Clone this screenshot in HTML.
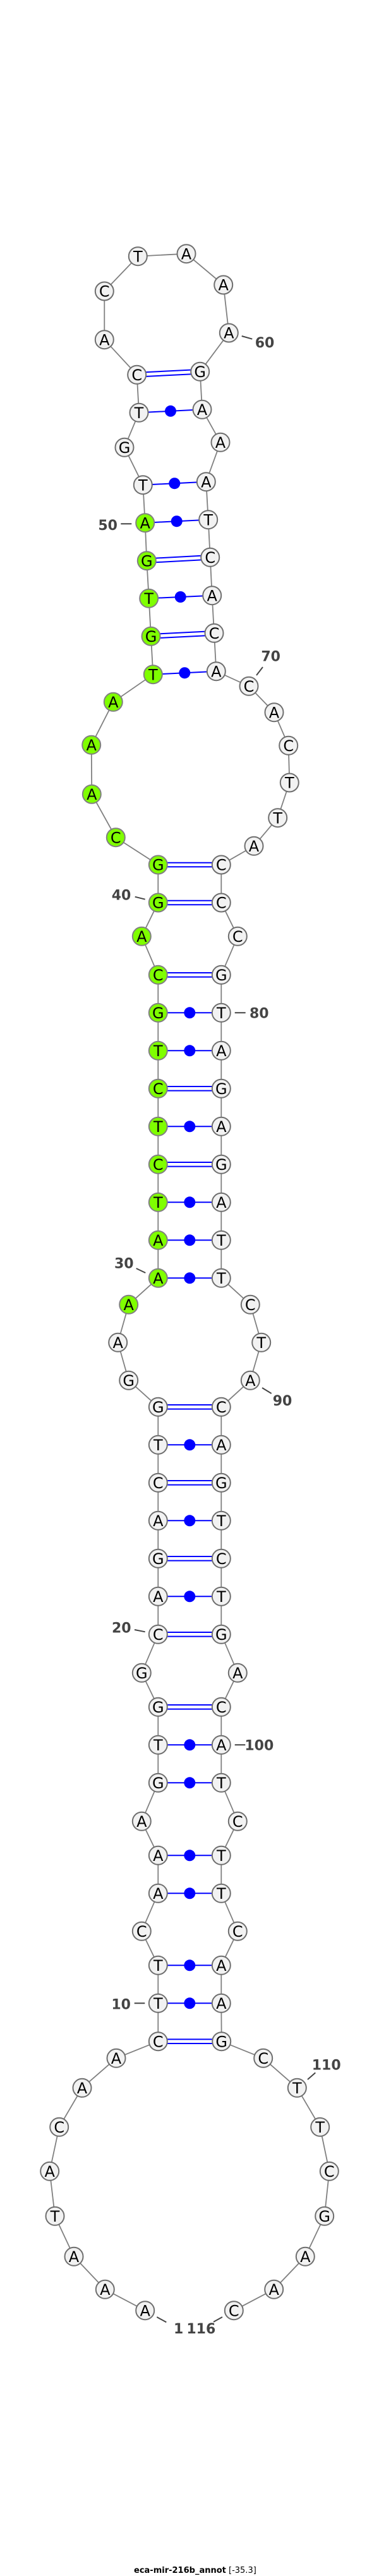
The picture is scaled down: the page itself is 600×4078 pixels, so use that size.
<!DOCTYPE html>
<html><head><meta charset="utf-8"><title>eca-mir-216b_annot</title>
<style>
html,body{margin:0;padding:0;background:#fff}
svg{display:block}
.n circle{fill:#f2f2f2;stroke:#6e6e6e;stroke-width:2}
.n circle.g{fill:#7fff00;stroke:#808080}
.n text{font:24px "DejaVu Sans",sans-serif;text-anchor:middle;fill:#000}
.l text{font:bold 22px "DejaVu Sans",sans-serif;text-anchor:middle;fill:#444}
.l line{stroke:#444;stroke-width:2}
.p line{stroke:#0000ff;stroke-width:2}
.p circle{fill:#0000ff}
</style></head><body>
<svg xmlns="http://www.w3.org/2000/svg" width="600" height="4078" viewBox="0 0 600 4078">
<polyline fill="none" stroke="#808080" stroke-width="1.8" points="229.7,3657.7 166.3,3624.3 117,3572.3 87,3508.3 78.7,3437.3 93.7,3367.3 130,3305.3 184,3258.3 250.3,3231.7 250.3,3171.3 250.3,3111.3 224.3,3057.3 250.3,2997.3 250.3,2937.3 224.3,2883.3 250.3,2822.3 250.3,2762.3 250.3,2702.3 224.3,2648.3 250.3,2587.3 250.3,2527.3 250.3,2467.3 250.3,2407.3 250.3,2347.3 250.3,2287.3 250.3,2227.3 203.7,2185.3 186.7,2125.3 203.7,2065.3 250.3,2023.3 250.3,1963.3 250.3,1903.3 250.3,1843.3 250.3,1783.3 250.3,1723.3 250.3,1663.3 250.3,1603.3 250.3,1543.3 224.3,1482.3 250.3,1429 250.3,1369 183.3,1325.7 145.3,1257.3 144.7,1179.3 179.3,1111.3 242.3,1067.7 239,1007.3 235.7,947.3 232.3,887.7 229.7,827.7 226.3,767.7 197,708.3 220,653.3 216.7,593.3 165.3,537.7 165.3,461 218.3,405.7 295,401.7 353.7,451 362.3,527 316.7,588.3 320,648.3 349,700.3 326.3,762.7 329.7,822.7 332.7,882.3 335.7,942.7 339,1002.3 342.3,1062.7 394,1086.3 434,1127.7 456.7,1180.3 458.3,1239 439.7,1294.7 402,1339.3 350.3,1369 350.3,1429 376.3,1482.3 350.3,1543.3 350.3,1603.3 350.3,1663.3 350.3,1723.3 350.3,1783.3 350.3,1843.3 350.3,1903.3 350.3,1963.3 350.3,2023.3 396.3,2065.3 413.7,2125.3 396.3,2185.3 350.3,2227.3 350.3,2287.3 350.3,2347.3 350.3,2407.3 350.3,2467.3 350.3,2527.3 350.3,2587.3 376.3,2648.3 350.3,2702.3 350.3,2762.3 350.3,2822.3 376.3,2883.3 350.3,2937.3 350.3,2997.3 376.3,3057.3 350.3,3111.3 350.3,3171.3 350.7,3231.7 416.7,3258.3 470.3,3305.3 506.7,3367.3 521.3,3437.3 513.7,3508.3 483.3,3572.3 433.7,3624.3 370.3,3657.7"/>
<g class="p">
<line x1="216.9" y1="589.9" x2="316.5" y2="584.9"/><line x1="217.1" y1="596.6" x2="316.9" y2="591.6"/>
<line x1="220" y1="653.3" x2="320" y2="648.3"/><circle cx="270" cy="650.8" r="9"/>
<line x1="226.3" y1="767.7" x2="326.3" y2="762.7"/><circle cx="276.3" cy="765.2" r="9"/>
<line x1="229.7" y1="827.7" x2="329.7" y2="822.7"/><circle cx="279.7" cy="825.2" r="9"/>
<line x1="232.3" y1="884.4" x2="332.7" y2="879"/><line x1="232.3" y1="891" x2="332.7" y2="885.6"/>
<line x1="235.7" y1="947.3" x2="335.7" y2="942.7"/><circle cx="285.7" cy="945" r="9"/>
<line x1="239" y1="1004" x2="339" y2="999"/><line x1="239" y1="1010.6" x2="339" y2="1005.6"/>
<line x1="242.3" y1="1067.7" x2="342.3" y2="1062.7"/><circle cx="292.3" cy="1065.2" r="9"/>
<line x1="250.3" y1="1365.7" x2="350.3" y2="1365.7"/><line x1="250.3" y1="1372.3" x2="350.3" y2="1372.3"/>
<line x1="250.3" y1="1425.7" x2="350.3" y2="1425.7"/><line x1="250.3" y1="1432.3" x2="350.3" y2="1432.3"/>
<line x1="250.3" y1="1540" x2="350.3" y2="1540"/><line x1="250.3" y1="1546.6" x2="350.3" y2="1546.6"/>
<line x1="250.3" y1="1603.3" x2="350.3" y2="1603.3"/><circle cx="300.3" cy="1603.3" r="9"/>
<line x1="250.3" y1="1663.3" x2="350.3" y2="1663.3"/><circle cx="300.3" cy="1663.3" r="9"/>
<line x1="250.3" y1="1720" x2="350.3" y2="1720"/><line x1="250.3" y1="1726.6" x2="350.3" y2="1726.6"/>
<line x1="250.3" y1="1783.3" x2="350.3" y2="1783.3"/><circle cx="300.3" cy="1783.3" r="9"/>
<line x1="250.3" y1="1840" x2="350.3" y2="1840"/><line x1="250.3" y1="1846.6" x2="350.3" y2="1846.6"/>
<line x1="250.3" y1="1903.3" x2="350.3" y2="1903.3"/><circle cx="300.3" cy="1903.3" r="9"/>
<line x1="250.3" y1="1963.3" x2="350.3" y2="1963.3"/><circle cx="300.3" cy="1963.3" r="9"/>
<line x1="250.3" y1="2023.3" x2="350.3" y2="2023.3"/><circle cx="300.3" cy="2023.3" r="9"/>
<line x1="250.3" y1="2224" x2="350.3" y2="2224"/><line x1="250.3" y1="2230.6" x2="350.3" y2="2230.6"/>
<line x1="250.3" y1="2287.3" x2="350.3" y2="2287.3"/><circle cx="300.3" cy="2287.3" r="9"/>
<line x1="250.3" y1="2344" x2="350.3" y2="2344"/><line x1="250.3" y1="2350.6" x2="350.3" y2="2350.6"/>
<line x1="250.3" y1="2407.3" x2="350.3" y2="2407.3"/><circle cx="300.3" cy="2407.3" r="9"/>
<line x1="250.3" y1="2464" x2="350.3" y2="2464"/><line x1="250.3" y1="2470.6" x2="350.3" y2="2470.6"/>
<line x1="250.3" y1="2527.3" x2="350.3" y2="2527.3"/><circle cx="300.3" cy="2527.3" r="9"/>
<line x1="250.3" y1="2584" x2="350.3" y2="2584"/><line x1="250.3" y1="2590.6" x2="350.3" y2="2590.6"/>
<line x1="250.3" y1="2699" x2="350.3" y2="2699"/><line x1="250.3" y1="2705.6" x2="350.3" y2="2705.6"/>
<line x1="250.3" y1="2762.3" x2="350.3" y2="2762.3"/><circle cx="300.3" cy="2762.3" r="9"/>
<line x1="250.3" y1="2822.3" x2="350.3" y2="2822.3"/><circle cx="300.3" cy="2822.3" r="9"/>
<line x1="250.3" y1="2937.3" x2="350.3" y2="2937.3"/><circle cx="300.3" cy="2937.3" r="9"/>
<line x1="250.3" y1="2997.3" x2="350.3" y2="2997.3"/><circle cx="300.3" cy="2997.3" r="9"/>
<line x1="250.3" y1="3111.3" x2="350.3" y2="3111.3"/><circle cx="300.3" cy="3111.3" r="9"/>
<line x1="250.3" y1="3171.3" x2="350.3" y2="3171.3"/><circle cx="300.3" cy="3171.3" r="9"/>
<line x1="250.3" y1="3228.4" x2="350.7" y2="3228.4"/><line x1="250.3" y1="3235" x2="350.7" y2="3235"/>
</g>
<g class="n">
<circle cx="229.7" cy="3657.7" r="14.5"/><text x="229.7" y="3666.4">A</text>
<circle cx="166.3" cy="3624.3" r="14.5"/><text x="166.3" y="3633">A</text>
<circle cx="117" cy="3572.3" r="14.5"/><text x="117" y="3581">A</text>
<circle cx="87" cy="3508.3" r="14.5"/><text x="87" y="3517">T</text>
<circle cx="78.7" cy="3437.3" r="14.5"/><text x="78.7" y="3446">A</text>
<circle cx="93.7" cy="3367.3" r="14.5"/><text x="93.7" y="3376">C</text>
<circle cx="130" cy="3305.3" r="14.5"/><text x="130" y="3314">A</text>
<circle cx="184" cy="3258.3" r="14.5"/><text x="184" y="3267">A</text>
<circle cx="250.3" cy="3231.7" r="14.5"/><text x="250.3" y="3240.4">C</text>
<circle cx="250.3" cy="3171.3" r="14.5"/><text x="250.3" y="3180">T</text>
<circle cx="250.3" cy="3111.3" r="14.5"/><text x="250.3" y="3120">T</text>
<circle cx="224.3" cy="3057.3" r="14.5"/><text x="224.3" y="3066">C</text>
<circle cx="250.3" cy="2997.3" r="14.5"/><text x="250.3" y="3006">A</text>
<circle cx="250.3" cy="2937.3" r="14.5"/><text x="250.3" y="2946">A</text>
<circle cx="224.3" cy="2883.3" r="14.5"/><text x="224.3" y="2892">A</text>
<circle cx="250.3" cy="2822.3" r="14.5"/><text x="250.3" y="2831">G</text>
<circle cx="250.3" cy="2762.3" r="14.5"/><text x="250.3" y="2771">T</text>
<circle cx="250.3" cy="2702.3" r="14.5"/><text x="250.3" y="2711">G</text>
<circle cx="224.3" cy="2648.3" r="14.5"/><text x="224.3" y="2657">G</text>
<circle cx="250.3" cy="2587.3" r="14.5"/><text x="250.3" y="2596">C</text>
<circle cx="250.3" cy="2527.3" r="14.5"/><text x="250.3" y="2536">A</text>
<circle cx="250.3" cy="2467.3" r="14.5"/><text x="250.3" y="2476">G</text>
<circle cx="250.3" cy="2407.3" r="14.5"/><text x="250.3" y="2416">A</text>
<circle cx="250.3" cy="2347.3" r="14.5"/><text x="250.3" y="2356">C</text>
<circle cx="250.3" cy="2287.3" r="14.5"/><text x="250.3" y="2296">T</text>
<circle cx="250.3" cy="2227.3" r="14.5"/><text x="250.3" y="2236">G</text>
<circle cx="203.7" cy="2185.3" r="14.5"/><text x="203.7" y="2194">G</text>
<circle cx="186.7" cy="2125.3" r="14.5"/><text x="186.7" y="2134">A</text>
<circle class="g" cx="203.7" cy="2065.3" r="14.5"/><text x="203.7" y="2074">A</text>
<circle class="g" cx="250.3" cy="2023.3" r="14.5"/><text x="250.3" y="2032">A</text>
<circle class="g" cx="250.3" cy="1963.3" r="14.5"/><text x="250.3" y="1972">A</text>
<circle class="g" cx="250.3" cy="1903.3" r="14.5"/><text x="250.3" y="1912">T</text>
<circle class="g" cx="250.3" cy="1843.3" r="14.5"/><text x="250.3" y="1852">C</text>
<circle class="g" cx="250.3" cy="1783.3" r="14.5"/><text x="250.3" y="1792">T</text>
<circle class="g" cx="250.3" cy="1723.3" r="14.5"/><text x="250.3" y="1732">C</text>
<circle class="g" cx="250.3" cy="1663.3" r="14.5"/><text x="250.3" y="1672">T</text>
<circle class="g" cx="250.3" cy="1603.3" r="14.5"/><text x="250.3" y="1612">G</text>
<circle class="g" cx="250.3" cy="1543.3" r="14.5"/><text x="250.3" y="1552">C</text>
<circle class="g" cx="224.3" cy="1482.3" r="14.5"/><text x="224.3" y="1491">A</text>
<circle class="g" cx="250.3" cy="1429" r="14.5"/><text x="250.3" y="1437.7">G</text>
<circle class="g" cx="250.3" cy="1369" r="14.5"/><text x="250.3" y="1377.7">G</text>
<circle class="g" cx="183.3" cy="1325.7" r="14.5"/><text x="183.3" y="1334.4">C</text>
<circle class="g" cx="145.3" cy="1257.3" r="14.5"/><text x="145.3" y="1266">A</text>
<circle class="g" cx="144.7" cy="1179.3" r="14.5"/><text x="144.7" y="1188">A</text>
<circle class="g" cx="179.3" cy="1111.3" r="14.5"/><text x="179.3" y="1120">A</text>
<circle class="g" cx="242.3" cy="1067.7" r="14.5"/><text x="242.3" y="1076.4">T</text>
<circle class="g" cx="239" cy="1007.3" r="14.5"/><text x="239" y="1016">G</text>
<circle class="g" cx="235.7" cy="947.3" r="14.5"/><text x="235.7" y="956">T</text>
<circle class="g" cx="232.3" cy="887.7" r="14.5"/><text x="232.3" y="896.4">G</text>
<circle class="g" cx="229.7" cy="827.7" r="14.5"/><text x="229.7" y="836.4">A</text>
<circle cx="226.3" cy="767.7" r="14.5"/><text x="226.3" y="776.4">T</text>
<circle cx="197" cy="708.3" r="14.5"/><text x="197" y="717">G</text>
<circle cx="220" cy="653.3" r="14.5"/><text x="220" y="662">T</text>
<circle cx="216.7" cy="593.3" r="14.5"/><text x="216.7" y="602">C</text>
<circle cx="165.3" cy="537.7" r="14.5"/><text x="165.3" y="546.4">A</text>
<circle cx="165.3" cy="461" r="14.5"/><text x="165.3" y="469.7">C</text>
<circle cx="218.3" cy="405.7" r="14.5"/><text x="218.3" y="414.4">T</text>
<circle cx="295" cy="401.7" r="14.5"/><text x="295" y="410.4">A</text>
<circle cx="353.7" cy="451" r="14.5"/><text x="353.7" y="459.7">A</text>
<circle cx="362.3" cy="527" r="14.5"/><text x="362.3" y="535.7">A</text>
<circle cx="316.7" cy="588.3" r="14.5"/><text x="316.7" y="597">G</text>
<circle cx="320" cy="648.3" r="14.5"/><text x="320" y="657">A</text>
<circle cx="349" cy="700.3" r="14.5"/><text x="349" y="709">A</text>
<circle cx="326.3" cy="762.7" r="14.5"/><text x="326.3" y="771.4">A</text>
<circle cx="329.7" cy="822.7" r="14.5"/><text x="329.7" y="831.4">T</text>
<circle cx="332.7" cy="882.3" r="14.5"/><text x="332.7" y="891">C</text>
<circle cx="335.7" cy="942.7" r="14.5"/><text x="335.7" y="951.4">A</text>
<circle cx="339" cy="1002.3" r="14.5"/><text x="339" y="1011">C</text>
<circle cx="342.3" cy="1062.7" r="14.5"/><text x="342.3" y="1071.4">A</text>
<circle cx="394" cy="1086.3" r="14.5"/><text x="394" y="1095">C</text>
<circle cx="434" cy="1127.7" r="14.5"/><text x="434" y="1136.4">A</text>
<circle cx="456.7" cy="1180.3" r="14.5"/><text x="456.7" y="1189">C</text>
<circle cx="458.3" cy="1239" r="14.5"/><text x="458.3" y="1247.7">T</text>
<circle cx="439.7" cy="1294.7" r="14.5"/><text x="439.7" y="1303.4">T</text>
<circle cx="402" cy="1339.3" r="14.5"/><text x="402" y="1348">A</text>
<circle cx="350.3" cy="1369" r="14.5"/><text x="350.3" y="1377.7">C</text>
<circle cx="350.3" cy="1429" r="14.5"/><text x="350.3" y="1437.7">C</text>
<circle cx="376.3" cy="1482.3" r="14.5"/><text x="376.3" y="1491">C</text>
<circle cx="350.3" cy="1543.3" r="14.5"/><text x="350.3" y="1552">G</text>
<circle cx="350.3" cy="1603.3" r="14.5"/><text x="350.3" y="1612">T</text>
<circle cx="350.3" cy="1663.3" r="14.5"/><text x="350.3" y="1672">A</text>
<circle cx="350.3" cy="1723.3" r="14.5"/><text x="350.3" y="1732">G</text>
<circle cx="350.3" cy="1783.3" r="14.5"/><text x="350.3" y="1792">A</text>
<circle cx="350.3" cy="1843.3" r="14.5"/><text x="350.3" y="1852">G</text>
<circle cx="350.3" cy="1903.3" r="14.5"/><text x="350.3" y="1912">A</text>
<circle cx="350.3" cy="1963.3" r="14.5"/><text x="350.3" y="1972">T</text>
<circle cx="350.3" cy="2023.3" r="14.5"/><text x="350.3" y="2032">T</text>
<circle cx="396.3" cy="2065.3" r="14.5"/><text x="396.3" y="2074">C</text>
<circle cx="413.7" cy="2125.3" r="14.5"/><text x="413.7" y="2134">T</text>
<circle cx="396.3" cy="2185.3" r="14.5"/><text x="396.3" y="2194">A</text>
<circle cx="350.3" cy="2227.3" r="14.5"/><text x="350.3" y="2236">C</text>
<circle cx="350.3" cy="2287.3" r="14.5"/><text x="350.3" y="2296">A</text>
<circle cx="350.3" cy="2347.3" r="14.5"/><text x="350.3" y="2356">G</text>
<circle cx="350.3" cy="2407.3" r="14.5"/><text x="350.3" y="2416">T</text>
<circle cx="350.3" cy="2467.3" r="14.5"/><text x="350.3" y="2476">C</text>
<circle cx="350.3" cy="2527.3" r="14.5"/><text x="350.3" y="2536">T</text>
<circle cx="350.3" cy="2587.3" r="14.5"/><text x="350.3" y="2596">G</text>
<circle cx="376.3" cy="2648.3" r="14.5"/><text x="376.3" y="2657">A</text>
<circle cx="350.3" cy="2702.3" r="14.5"/><text x="350.3" y="2711">C</text>
<circle cx="350.3" cy="2762.3" r="14.5"/><text x="350.3" y="2771">A</text>
<circle cx="350.3" cy="2822.3" r="14.5"/><text x="350.3" y="2831">T</text>
<circle cx="376.3" cy="2883.3" r="14.5"/><text x="376.3" y="2892">C</text>
<circle cx="350.3" cy="2937.3" r="14.5"/><text x="350.3" y="2946">T</text>
<circle cx="350.3" cy="2997.3" r="14.5"/><text x="350.3" y="3006">T</text>
<circle cx="376.3" cy="3057.3" r="14.5"/><text x="376.3" y="3066">C</text>
<circle cx="350.3" cy="3111.3" r="14.5"/><text x="350.3" y="3120">A</text>
<circle cx="350.3" cy="3171.3" r="14.5"/><text x="350.3" y="3180">A</text>
<circle cx="350.7" cy="3231.7" r="14.5"/><text x="350.7" y="3240.4">G</text>
<circle cx="416.7" cy="3258.3" r="14.5"/><text x="416.7" y="3267">C</text>
<circle cx="470.3" cy="3305.3" r="14.5"/><text x="470.3" y="3314">T</text>
<circle cx="506.7" cy="3367.3" r="14.5"/><text x="506.7" y="3376">T</text>
<circle cx="521.3" cy="3437.3" r="14.5"/><text x="521.3" y="3446">C</text>
<circle cx="513.7" cy="3508.3" r="14.5"/><text x="513.7" y="3517">G</text>
<circle cx="483.3" cy="3572.3" r="14.5"/><text x="483.3" y="3581">A</text>
<circle cx="433.7" cy="3624.3" r="14.5"/><text x="433.7" y="3633">A</text>
<circle cx="370.3" cy="3657.7" r="14.5"/><text x="370.3" y="3666.4">C</text>
</g>
<g class="l">
<line x1="382.7" y1="532" x2="399.3" y2="536.7"/><text x="419" y="550">60</text>
<line x1="191.3" y1="829.3" x2="208.3" y2="829.3"/><text x="170.7" y="839">50</text>
<line x1="416" y1="1056" x2="406" y2="1069"/><text x="428.7" y="1046.3">70</text>
<line x1="213.7" y1="1419.7" x2="229.7" y2="1423.7"/><text x="192" y="1424.3">40</text>
<line x1="371.7" y1="1603.3" x2="388.7" y2="1603.3"/><text x="410.3" y="1611.3">80</text>
<line x1="215.7" y1="2008" x2="230.3" y2="2015"/><text x="196.3" y="2007.3">30</text>
<line x1="415" y1="2197" x2="429.7" y2="2206"/><text x="447" y="2225">90</text>
<line x1="213" y1="2580" x2="229.7" y2="2583.3"/><text x="192.3" y="2584.7">20</text>
<line x1="371.7" y1="2762.3" x2="388.3" y2="2762.3"/><text x="410.3" y="2770.3">100</text>
<line x1="212.7" y1="3171.3" x2="229.3" y2="3171.3"/><text x="191.7" y="3180.3">10</text>
<line x1="499.3" y1="3281.3" x2="487" y2="3292"/><text x="516.7" y="3276.7">110</text>
<line x1="248.3" y1="3668" x2="263.3" y2="3676.3"/><text x="282.7" y="3694">1</text>
<line x1="352" y1="3668" x2="338" y2="3675.7"/><text x="318.3" y="3694">116</text>
</g>
<text x="212" y="4073" font-family="'DejaVu Sans',sans-serif" font-size="13" fill="#000"><tspan font-weight="bold">eca-mir-216b_annot</tspan> [-35.3]</text>
</svg>
</body></html>
